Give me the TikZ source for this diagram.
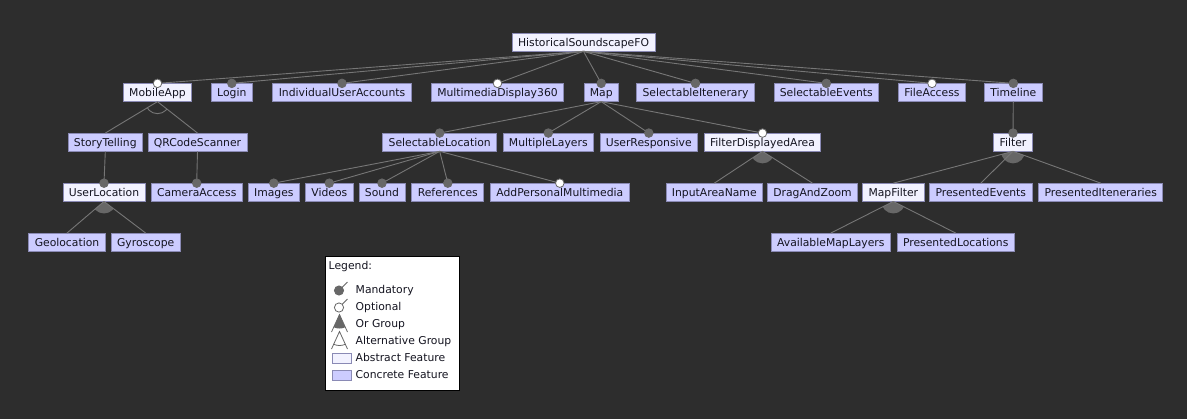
\documentclass[tikz,border=0pt]{standalone}
\usepackage{fontspec}
\setmainfont{DejaVu Sans}
\definecolor{bgc}{HTML}{2D2D2D}
\definecolor{concretec}{HTML}{CCCCFF}
\definecolor{abstractc}{HTML}{F2F2FF}
\definecolor{featborder}{HTML}{8A8AB5}
\definecolor{textc}{HTML}{141420}
\definecolor{linec}{HTML}{767676}
\definecolor{circc}{HTML}{676767}
\begin{document}
\begin{tikzpicture}[x=1bp,y=-1bp,
  feat/.style={draw=featborder, line width=0.8bp, text=textc,
    font=\fontsize{10.8bp}{13bp}\selectfont, inner xsep=5.9bp, inner ysep=0pt,
    minimum height=17.5bp, text height=9.1bp, text depth=1.3bp},
  concrete/.style={feat, fill=concretec},
  abstractf/.style={feat, fill=abstractc},
  edge/.style={draw=linec, line width=0.9bp},
  mandmark/.style={fill=circc, draw=circc, line width=0.8bp},
  optmark/.style={fill=white, draw=circc, line width=0.8bp},
  legtext/.style={anchor=west, inner sep=0pt, text=textc,
    font=\fontsize{10.8bp}{13bp}\selectfont, text height=9.1bp, text depth=1.3bp},
]
\path[use as bounding box, fill=bgc] (0,0) rectangle (1187,419);

% ---------- features ----------
\node[abstractf] (root) at (583.5,42.2) {HistoricalSoundscapeFO};
\node[abstractf] (mob) at (157.5,92.5) {MobileApp};
\node[concrete] (login) at (231.8,92.5) {Login};
\node[concrete] (iua) at (342,92.5) {IndividualUserAccounts};
\node[concrete] (md) at (497.5,92.5) {MultimediaDisplay360};
\node[concrete] (map) at (601.2,92.5) {Map};
\node[concrete] (sit) at (695.5,92.5) {SelectableItenerary};
\node[concrete] (sev) at (826.3,92.5) {SelectableEvents};
\node[concrete] (fa) at (932,92.5) {FileAccess};
\node[concrete] (tl) at (1013.3,92.5) {Timeline};

\node[concrete] (st) at (105.3,142.2) {StoryTelling};
\node[concrete] (qr) at (197.5,142.2) {QRCodeScanner};
\node[concrete] (sl) at (439.7,142.2) {SelectableLocation};
\node[concrete] (ml) at (548.3,142.2) {MultipleLayers};
\node[concrete] (ur) at (648.8,142.2) {UserResponsive};
\node[abstractf] (fda) at (762.5,142.2) {FilterDisplayedArea};
\node[abstractf] (fil) at (1013,142.2) {Filter};

\node[abstractf] (ul) at (104,192.3) {UserLocation};
\node[concrete] (cam) at (196.7,192.3) {CameraAccess};
\node[concrete] (img) at (273.8,192.3) {Images};
\node[concrete] (vid) at (329.3,192.3) {Videos};
\node[concrete] (snd) at (382,192.3) {Sound};
\node[concrete] (ref) at (447.8,192.3) {References};
\node[concrete] (apm) at (559.8,192.3) {AddPersonalMultimedia};
\node[concrete] (ian) at (714.3,192.3) {InputAreaName};
\node[concrete] (daz) at (812.5,192.3) {DragAndZoom};
\node[abstractf] (mf) at (893.3,192.3) {MapFilter};
\node[concrete] (pe) at (980.8,192.3) {PresentedEvents};
\node[concrete] (pit) at (1100.8,192.3) {PresentedIteneraries};

\node[concrete] (geo) at (67,242.2) {Geolocation};
\node[concrete] (gyr) at (145.7,242.2) {Gyroscope};
\node[concrete] (aml) at (830.8,242.2) {AvailableMapLayers};
\node[concrete] (pl) at (955.7,242.2) {PresentedLocations};

% ---------- groups (or / alternative) ----------
\begin{scope}
  \clip (ul.south) -- (geo.north) -- (gyr.north) -- cycle;
  \fill[circc] (ul.south) circle (12bp);
\end{scope}
\begin{scope}
  \clip (fda.south) -- (ian.north) -- (daz.north) -- cycle;
  \fill[circc] (fda.south) circle (12bp);
\end{scope}
\begin{scope}
  \clip (fil.south) -- (mf.north) -- (pit.north) -- cycle;
  \fill[circc] (fil.south) circle (12bp);
\end{scope}
\begin{scope}
  \clip (mf.south) -- (aml.north) -- (pl.north) -- cycle;
  \fill[circc] (mf.south) circle (12bp);
\end{scope}
\begin{scope}
  \clip (mob.south) -- (st.north) -- (qr.north) -- cycle;
  \draw[edge] (mob.south) circle (12bp);
\end{scope}

% ---------- edges ----------
\foreach \c in {mob,login,iua,md,map,sit,sev,fa,tl}
  \draw[edge] (root.south) -- (\c.north);
\foreach \c in {st,qr} \draw[edge] (mob.south) -- (\c.north);
\draw[edge] (st.south) -- (ul.north);
\draw[edge] (qr.south) -- (cam.north);
\foreach \c in {sl,ml,ur,fda} \draw[edge] (map.south) -- (\c.north);
\foreach \c in {img,vid,snd,ref,apm} \draw[edge] (sl.south) -- (\c.north);
\draw[edge] (tl.south) -- (fil.north);
\foreach \c in {geo,gyr} \draw[edge] (ul.south) -- (\c.north);
\foreach \c in {ian,daz} \draw[edge] (fda.south) -- (\c.north);
\foreach \c in {mf,pe,pit} \draw[edge] (fil.south) -- (\c.north);
\foreach \c in {aml,pl} \draw[edge] (mf.south) -- (\c.north);

% ---------- mandatory / optional markers ----------
\foreach \c in {login,iua,map,sit,sev,tl,sl,ml,ur,fil,ul,cam,img,vid,snd,ref}
  \path[mandmark] (\c.north) circle (4.3bp);
\foreach \c in {mob,md,fa,fda,apm}
  \path[optmark] (\c.north) circle (4.3bp);

% ---------- legend ----------
\node[draw=black, fill=white, line width=0.8bp, minimum width=134bp,
  minimum height=134bp, inner sep=0pt, anchor=north west] (legend) at (325,256) {};
\node[legtext] (lt) at (328.5,265.5) {Legend:};
\node[legtext] (l1) at (355.5,289.5) {Mandatory};
\node[legtext] (l2) at (355.5,306.5) {Optional};
\node[legtext] (l3) at (355.5,323.5) {Or Group};
\node[legtext] (l4) at (355.5,340.5) {Alternative Group};
\node[legtext] (l5) at (355.5,357.5) {Abstract Feature};
\node[legtext] (l6) at (355.5,374.5) {Concrete Feature};
% symbols
\draw[circc, line width=0.8bp] (339,290.5) -- (347.5,282);
\path[mandmark] (339,290.5) circle (4.6bp);
\draw[circc, line width=0.8bp] (339,307.5) -- (347.5,299);
\path[optmark] (339,307.5) circle (4.6bp);
\coordinate (oa) at (339.5,314.5);
\coordinate (ob) at (331.5,332);
\coordinate (oc) at (347.5,332);
\draw[circc, line width=0.8bp] (ob) -- (oa) -- (oc);
\begin{scope}
  \clip (oa) -- (ob) -- (oc) -- cycle;
  \fill[circc] (oa) circle (14bp);
\end{scope}
\coordinate (aa) at (339.5,331.5);
\coordinate (ab) at (331.5,349);
\coordinate (ac) at (347.5,349);
\draw[circc, line width=0.8bp] (ab) -- (aa) -- (ac);
\begin{scope}
  \clip (aa) -- (ab) -- (ac) -- cycle;
  \draw[circc, line width=0.8bp] (aa) circle (14bp);
\end{scope}
\draw[featborder, fill=abstractc, line width=0.8bp] (332,353) rectangle (351,363);
\draw[featborder, fill=concretec, line width=0.8bp] (332,370) rectangle (351,380);
\end{tikzpicture}
\end{document}
